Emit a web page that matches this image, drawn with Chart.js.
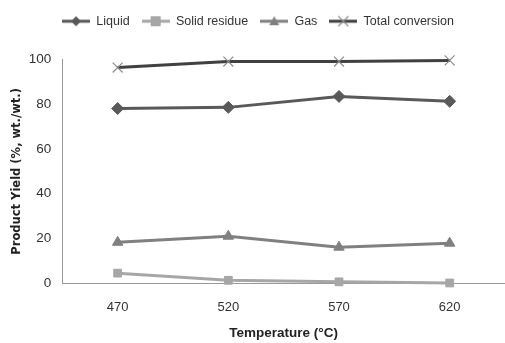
<!DOCTYPE html>
<html>
<head>
<meta charset="utf-8">
<script src="https://cdn.jsdelivr.net/npm/chart.js@4"></script>
<style>
  html, body { margin: 0; padding: 0; background: #fff; }
  #wrap { width: 505px; height: 343px; }
</style>
</head>
<body>
<div id="wrap"><canvas id="chart" width="505" height="343"></canvas></div>
<script>
const temperatures = ['470', '520', '570', '620'];
const liquid = [78.1, 78.6, 83.5, 81.3];
const solidResidue = [4.5, 1.3, 0.6, 0.1];
const gas = [18.3, 21.0, 16.1, 17.9];
const totalConversion = [96.4, 99.1, 99.1, 99.6];

const font = "'Liberation Sans', sans-serif";

// legend swatch: short line with the marker on it
function swatch(color, markerColor, style) {
  const c = document.createElement('canvas');
  c.width = 28; c.height = 12;
  const g = c.getContext('2d');
  g.strokeStyle = color; g.lineWidth = 3;
  g.beginPath(); g.moveTo(0, 6); g.lineTo(28, 6); g.stroke();
  g.fillStyle = markerColor; g.strokeStyle = markerColor;
  if (style === 'rectRot') {
    g.beginPath(); g.moveTo(14, 1); g.lineTo(19, 6); g.lineTo(14, 11); g.lineTo(9, 6); g.closePath(); g.fill();
  } else if (style === 'rect') {
    g.fillRect(9, 1, 10, 10);
  } else if (style === 'triangle') {
    g.beginPath(); g.moveTo(14, 1); g.lineTo(19, 10); g.lineTo(9, 10); g.closePath(); g.fill();
  } else {
    g.lineWidth = 1.2;
    g.beginPath(); g.moveTo(9, 1); g.lineTo(19, 11); g.moveTo(19, 1); g.lineTo(9, 11); g.stroke();
  }
  return c;
}

const series = [
  { label: 'Liquid', data: liquid, color: '#595959', marker: '#595959', style: 'rectRot', r: 6 },
  { label: 'Solid residue', data: solidResidue, color: '#a6a6a6', marker: '#a6a6a6', style: 'rect', r: 5.5 },
  { label: 'Gas', data: gas, color: '#808080', marker: '#808080', style: 'triangle', r: 6 },
  { label: 'Total conversion', data: totalConversion, color: '#404040', marker: '#8c8c8c', style: 'crossRot', r: 7 }
];

const legendGap = {
  id: 'legendGap',
  beforeInit(chart) {
    const fit = chart.legend.fit;
    chart.legend.fit = function () {
      fit.call(this);
      this.height += 22;
    };
  }
};

new Chart(document.getElementById('chart'), {
  type: 'line',
  data: {
    labels: temperatures,
    datasets: series.map(s => ({
      label: s.label,
      data: s.data,
      borderColor: s.color,
      backgroundColor: s.marker,
      pointBorderColor: s.marker,
      pointBackgroundColor: s.marker,
      borderWidth: 3,
      pointStyle: s.style,
      pointRadius: s.r,
      pointBorderWidth: s.style === 'crossRot' ? 1.2 : 1,
      tension: 0,
      clip: false,
      swatch: swatch(s.color, s.marker, s.style)
    }))
  },
  plugins: [legendGap],
  options: {
    responsive: false,
    animation: false,
    layout: { autoPadding: false, padding: { left: 10, right: -1, top: 3, bottom: 2 } },
    plugins: {
      legend: {
        position: 'top',
        labels: {
          usePointStyle: true,
          pointStyleWidth: 28,
          boxHeight: 12,
          padding: 12,
          color: '#333',
          font: { family: font, size: 12.5 },
          generateLabels: chart => chart.data.datasets.map((ds, i) => ({
            text: ds.label,
            pointStyle: ds.swatch,
            datasetIndex: i,
            fontColor: '#333',
            lineWidth: 0,
            strokeStyle: 'transparent',
            fillStyle: 'transparent'
          }))
        }
      },
      tooltip: { enabled: false }
    },
    scales: {
      x: {
        offset: true,
        grid: { display: false, drawTicks: false },
        border: { color: '#999', width: 1 },
        ticks: { color: '#333', padding: 16, font: { family: font, size: 13 } },
        title: {
          display: true,
          text: 'Temperature (°C)',
          color: '#222',
          font: { family: font, size: 13.5, weight: 'bold' },
          padding: { top: -6, bottom: 0 }
        }
      },
      y: {
        min: 0,
        max: 100,
        grid: { display: false, drawTicks: false },
        border: { color: '#999', width: 1 },
        ticks: { stepSize: 20, color: '#333', padding: 11, font: { family: font, size: 13.5 } },
        title: {
          display: true,
          text: 'Product Yield (%, wt./wt.)',
          color: '#222',
          font: { family: "'DejaVu Sans', sans-serif", size: 11.5, weight: 'bold' },
          padding: { top: 0, bottom: -6 }
        }
      }
    }
  }
});
</script>
</body>
</html>
